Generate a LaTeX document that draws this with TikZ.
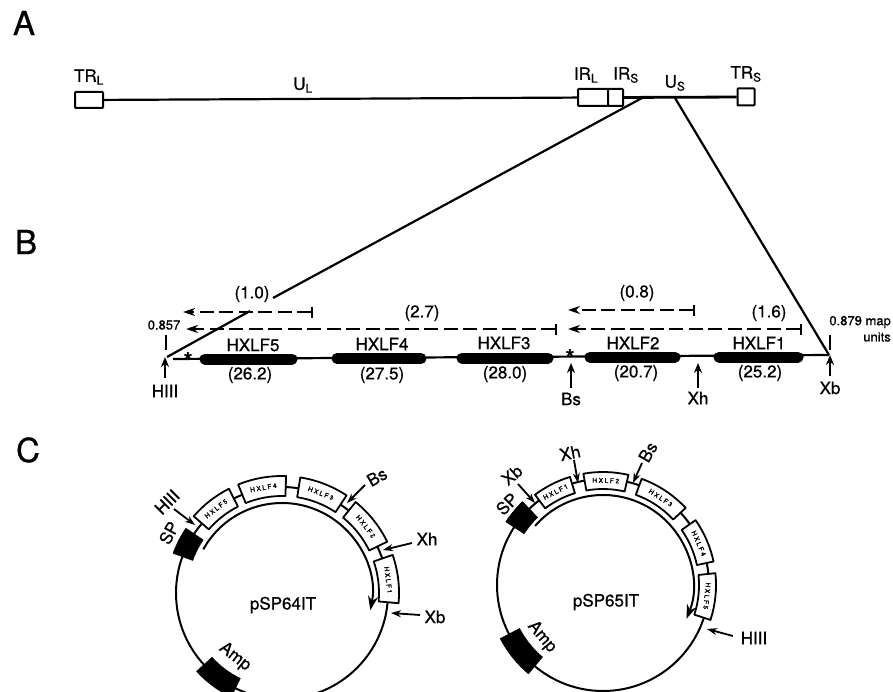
\documentclass[tikz,border=0pt]{standalone}
\usepackage{fontspec}
\setmainfont{TeX Gyre Heros}[FakeBold = 0.8]
\newfontfamily\genefont{TeX Gyre Heros}[LetterSpace = 25,FakeBold = 2]
\usetikzlibrary{arrows.meta}
\tikzset{
    textlabel/.style = {inner sep = 0pt,font = \fontsize{17}{17}\selectfont},
    letterlabel/.style = {inner sep = 0pt,font = \fontsize{33}{33}\selectfont},
    smalllabel/.style = {inner sep = 0pt,font = \fontsize{13}{13}\selectfont},
    toplabel/.style = {inner sep = 0pt,font = \fontsize{17}{17}\selectfont},
    genelabel/.style = {inner sep = 0pt,font = \fontsize{6.5}{7}\genefont},
    repeatbox/.style = {draw = black,line width = 2pt,fill = white,inner sep = 0pt,rounded corners = 0.8pt},
    dnaline/.style = {line width = 2.2pt},
    genebar/.style = {line width = 11pt,line cap = round},
    dashlabel/.style = {line width = 2.4pt,dash pattern = on 14pt off 5.5pt,{Bar[width = 11pt,line width = 2.4pt]}-{Stealth[length = 12pt,width = 8pt]}},
    sitearrow/.style = {line width = 2.2pt,-{Stealth[length = 10pt,width = 8pt]}},
    ringarrow/.style = {line width = 1.8pt,-{Stealth[length = 10pt,width = 7pt]}},
    thintick/.style = {line width = 2.2pt},
    genebox/.style = {draw = black,line width = 1.8pt,fill = white,line join = round},
    markerbox/.style = {draw = black,fill = black,line join = round},
    ringline/.style = {line width = 2pt}
}
\begin{document}
\begin{tikzpicture}[x = 1pt,y = -1pt]
        \clip (0,0) rectangle (893,692);
        \node [letterlabel] (panela) at (24,23) {A};
        \node [letterlabel] (panelb) at (26,242) {B};
        \node [letterlabel] (panelc) at (28,450) {C};

        \node [repeatbox,minimum width = 28pt,minimum height = 16pt] (trl) at (89,100) {};
        \node [repeatbox,minimum width = 30pt,minimum height = 17pt] (irl) at (593,97.5) {};
        \node [repeatbox,minimum width = 15pt,minimum height = 17pt] (irs) at (615.5,97.5) {};
        \node [repeatbox,minimum width = 17pt,minimum height = 17pt] (trs) at (746,97) {};
        \draw [dnaline] (trl) -- (irl);
        \draw [dnaline,line width = 2.8pt] (irs) -- (trs);
        \node [toplabel] (trllabel) at (89,77) {TR\textsubscript{L}};
        \node [toplabel] (ullabel) at (303,85) {U\textsubscript{L}};
        \node [toplabel] (irllabel) at (586,75) {IR\textsubscript{L}};
        \node [toplabel] (irslabel) at (626,75) {IR\textsubscript{S}};
        \node [toplabel] (uslabel) at (675,83) {U\textsubscript{S}};
        \node [toplabel] (trslabel) at (746,74) {TR\textsubscript{S}};

        \coordinate (zoomleft) at (642,98);
        \coordinate (zoombreak) at (273,298);
        \coordinate (zoomresume) at (250,311);
        \coordinate (hindsite) at (167,357);
        \coordinate (zoomright) at (675,98);
        \coordinate (xbasite) at (829,355);
        \draw [dnaline] (zoomleft) -- (zoombreak);
        \draw [dnaline] (zoomresume) -- (hindsite);
        \draw [dnaline] (zoomright) -- (xbasite);

        \coordinate (linestart) at (173,359);
        \draw [dnaline] (linestart) -- (xbasite);
        \foreach \genename/\xfrom/\xto/\ybar/\xcds/\ycds/\cds in {
            HXLF5/205/292/359/250/375/26.2,
            HXLF4/337/421/358.5/382/375/27.5,
            HXLF3/462/548/358/505/374/28.0,
            HXLF2/590/675/357/636/373/20.7,
            HXLF1/719/798/357/760/373/25.2}{
            \coordinate (\genename a) at (\xfrom,\ybar);
            \coordinate (\genename b) at (\xto,\ybar);
            \draw [genebar] (\genename a) -- (\genename b);
            \node [textlabel] (\genename size) at (\xcds,\ycds) {(\cds)};
        }
        \node [textlabel] (name5) at (253,345) {HXLF5};
        \node [textlabel] (name4) at (382,344) {HXLF4};
        \node [textlabel] (name3) at (504,343) {HXLF3};
        \node [textlabel] (name2) at (633,343) {HXLF2};
        \node [textlabel] (name1) at (759,343) {HXLF1};

        \foreach \dashname/\xbar/\xtip/\ydash/\xlab/\ylab/\size in {
            one/313/183/312/252/294/1.0,
            two/557/186/329/422/313/2.7,
            three/695/568/310/637/293/0.8,
            four/802/568/329/769/313/1.6}{
            \coordinate (\dashname bar) at (\xbar,\ydash);
            \coordinate (\dashname tip) at (\xtip,\ydash);
            \draw [dashlabel] (\dashname bar) -- (\dashname tip);
            \node [textlabel] (\dashname label) at (\xlab,\ylab) {(\size)};
        }

        \node [smalllabel] (leftmap) at (164,325) {0.857};
        \node [smalllabel,anchor = east] (rightmap) at (891,322) {0.879 map};
        \node [smalllabel,anchor = east] (rightunits) at (891,337) {units};
        \coordinate (lefttopa) at (166,335);
        \coordinate (lefttopb) at (166,350);
        \coordinate (righttopa) at (830,335);
        \coordinate (righttopb) at (830,350);
        \draw [thintick] (lefttopa) -- (lefttopb);
        \draw [thintick] (righttopa) -- (righttopb);

        \node [textlabel,font = \fontsize{24}{24}\selectfont] (starleft) at (188,361) {*};
        \node [textlabel,font = \fontsize{24}{24}\selectfont] (starright) at (570,358) {*};
        \foreach \sitename/\xsite/\ytail/\ytip/\ylabel/\sitetext in {
            hthree/165/378/357/391/HIII,
            bs/571/388/363/399/Bs,
            xh/698/388/363/398/Xh,
            xb/830/376/355/388/Xb}{
            \coordinate (\sitename tail) at (\xsite,\ytail);
            \coordinate (\sitename tip) at (\xsite,\ytip);
            \draw [sitearrow] (\sitename tail) -- (\sitename tip);
            \node [textlabel] (\sitename label) at (\xsite,\ylabel) {\sitetext};
        }

        \begin{scope}[shift = {(282,593)},x = 1pt,y = 1pt]
            \draw [ringline] (0,0) circle [radius = 106];
            \draw [ringline,-{Stealth[length = 14pt,width = 10pt]}] (151:90) arc [start angle = 151,end angle = -11,radius = 90];
            \foreach \genename/\afrom/\ato in {HXLF5/139/117,HXLF4/112/88,HXLF3/81/56.5,HXLF2/51/26,HXLF1/19/-5}{
                \draw [genebox] (\afrom:97) arc [start angle = \afrom,end angle = \ato,radius = 97] -- (\ato:117) arc [start angle = \ato,end angle = \afrom,radius = 117] -- cycle;
                \pgfmathsetmacro{\amiddle}{(\afrom+\ato)/2}
                \node [genelabel,rotate = \amiddle-90] (left\genename) at (\amiddle:107) {\genename};
            }
            \foreach \afrom/\ato/\markname in {146/160/sp,222.5/244/amp}{
                \draw [markerbox] (\afrom:95) arc [start angle = \afrom,end angle = \ato,radius = 95] -- (\ato:116) arc [start angle = \ato,end angle = \afrom,radius = 116] -- cycle;
            }
        \end{scope}
        \node [textlabel] (plasmidleft) at (283,605) {pSP64IT};
        \node [textlabel,rotate = 45] (lefththree) at (167,502) {HIII};
        \node [textlabel,rotate = 62] (leftsp) at (169,533) {SP};
        \node [textlabel,rotate = 30] (leftbs) at (377,477) {Bs};
        \node [textlabel] (leftxh) at (427,539) {Xh};
        \node [textlabel] (leftxb) at (435,617) {Xb};
        \node [textlabel,rotate = -38] (leftamp) at (235,657) {Amp};
        \coordinate (lefththreetip) at (195,525);
        \coordinate (leftbstip) at (347,503);
        \coordinate (leftxhtip) at (383,550);
        \coordinate (leftxbtip) at (391,613);
        \draw [ringarrow] (lefththree) ++(7,7) -- (lefththreetip);
        \draw [ringarrow] (leftbs) ++(-12,8) -- (leftbstip);
        \draw [ringarrow] (leftxh) ++(-15,4) -- (leftxhtip);
        \draw [ringarrow] (leftxb) ++(-15,-2) -- (leftxbtip);

        \begin{scope}[shift = {(603,585)},x = 1pt,y = 1pt]
            \draw [ringline] (0,0) circle [radius = 106];
            \draw [ringline,-{Stealth[length = 14pt,width = 10pt]}] (139:90) arc [start angle = 139,end angle = -22,radius = 90];
            \foreach \genename/\afrom/\ato in {HXLF1/127/107,HXLF2/100/77,HXLF3/70/43,HXLF4/35/12,HXLF5/6/-18}{
                \draw [genebox] (\afrom:96) arc [start angle = \afrom,end angle = \ato,radius = 96] -- (\ato:113) arc [start angle = \ato,end angle = \afrom,radius = 113] -- cycle;
                \pgfmathsetmacro{\amiddle}{(\afrom+\ato)/2}
                \node [genelabel,rotate = \amiddle-90] (right\genename) at (\amiddle:104.5) {\genename};
            }
            \foreach \afrom/\ato/\markname in {134/147/sp,207.5/230/amp}{
                \draw [markerbox] (\afrom:94) arc [start angle = \afrom,end angle = \ato,radius = 94] -- (\ato:116) arc [start angle = \ato,end angle = \afrom,radius = 116] -- cycle;
            }
        \end{scope}
        \node [textlabel] (plasmidright) at (606,602) {pSP65IT};
        \node [textlabel,rotate = 40] (rightxb) at (512,475) {Xb};
        \node [textlabel,rotate = 45] (rightsp) at (507,504) {SP};
        \node [textlabel,rotate = 12] (rightxh) at (570,453) {Xh};
        \node [textlabel,rotate = 60] (rightbs) at (648,452) {Bs};
        \node [textlabel] (righththree) at (754,638) {HIII};
        \node [textlabel,rotate = -50] (rightamp) at (542,637) {Amp};
        \coordinate (rightxbtip) at (535,503);
        \coordinate (rightxhtip) at (578,483);
        \coordinate (rightbstip) at (633,483);
        \coordinate (righththreetip) at (707,629);
        \draw [ringarrow] (rightxb) ++(6,9) -- (rightxbtip);
        \draw [ringarrow] (rightxh) ++(4,7) -- (rightxhtip);
        \draw [ringarrow] (rightbs) ++(-6,11) -- (rightbstip);
        \draw [ringarrow] (righththree) ++(-21,-2) -- (righththreetip);
    \end{tikzpicture}
\end{document}
